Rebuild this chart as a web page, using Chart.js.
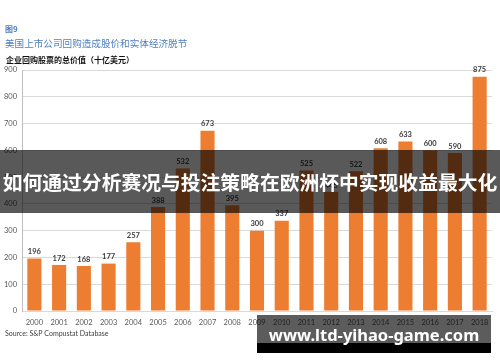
<!DOCTYPE html>
<html>
<head>
<meta charset="utf-8">
<script src="https://cdn.jsdelivr.net/npm/chart.js@4/dist/chart.umd.min.js"></script>
<style>
  html, body { margin: 0; padding: 0; background: #fff; }
  #wrap { position: relative; width: 500px; height: 362px; }
</style>
</head>
<body>
<div id="wrap"><canvas id="chart" width="500" height="362"></canvas></div>
<script>
// dados do gráfico
const years = ['2000','2001','2002','2003','2004','2005','2006','2007','2008','2009',
               '2010','2011','2012','2013','2014','2015','2016','2017','2018'];
const buybacks = [196, 172, 168, 177, 257, 388, 532, 673, 395, 300,
                  337, 525, 445, 522, 608, 633, 600, 590, 875];
const yTicks = [0, 100, 200, 300, 400, 500, 600, 700, 800, 900];

const figLabel = '图9';
const title = '美国上市公司回购造成股价和实体经济脱节';
const subtitle = '企业回购股票的总价值（十亿美元）';
const source = 'Source: S&P Compustat Database';
const bannerText = '如何通过分析赛况与投注策略在欧洲杯中实现收益最大化';
const watermark = 'www.ltd-yihao-game.com';

// plugin para rótulos, títulos e sobreposições
const overlayPlugin = {
    id: 'overlay',
    afterDatasetsDraw(chart) {
        const ctx = chart.ctx;
        const meta = chart.getDatasetMeta(0);
        ctx.save();
        ctx.fillStyle = '#404040';
        ctx.font = 'bold 7.5px Lato, sans-serif';
        ctx.textAlign = 'center';
        ctx.textBaseline = 'bottom';
        meta.data.forEach((bar, i) => {
            ctx.fillText(buybacks[i], bar.x, bar.y - 3);
        });
        ctx.restore();
    },
    afterDraw(chart) {
        const ctx = chart.ctx;
        ctx.save();
        // títulos
        ctx.textBaseline = 'middle';
        ctx.textAlign = 'left';
        ctx.fillStyle = '#4f7fc0';
        ctx.font = 'bold 8px "Noto Sans CJK SC", sans-serif';
        ctx.fillText(figLabel, 5, 29);
        ctx.font = '9.6px "Noto Sans CJK SC", sans-serif';
        ctx.fillText(title, 5, 43);
        ctx.fillStyle = '#111';
        ctx.font = 'bold 8px "Noto Sans CJK SC", sans-serif';
        ctx.fillText(subtitle, 6, 60);
        // fonte
        ctx.fillStyle = '#404040';
        ctx.font = '7px Lato, sans-serif';
        ctx.fillText(source, 5, 334);

        // faixa escura
        ctx.fillStyle = 'rgba(0,0,0,0.65)';
        ctx.fillRect(0, 150, 500, 63);
        ctx.fillStyle = '#fff';
        ctx.textAlign = 'center';
        ctx.font = 'bold 19.8px "Noto Sans CJK SC", sans-serif';
        ctx.fillText(bannerText, 250, 182);

        // marca d'água
        ctx.fillStyle = 'rgba(0,0,0,0.64)';
        ctx.fillRect(257, 315, 234, 28);
        ctx.fillStyle = '#000';
        ctx.fillRect(257, 343, 234, 10);
        ctx.fillStyle = '#fff';
        ctx.font = 'bold 16.5px "Noto Sans", sans-serif';
        ctx.fillText(watermark, 374, 336);
        ctx.restore();
    }
};

new Chart(document.getElementById('chart'), {
    type: 'bar',
    data: {
        labels: years,
        datasets: [{
            data: buybacks,
            backgroundColor: '#ed7d31',
            borderWidth: 0,
            barPercentage: 0.57,
            categoryPercentage: 1.0
        }]
    },
    options: {
        responsive: false,
        animation: false,
        layout: { padding: { top: 70, right: 8, bottom: 0, left: 0 } },
        plugins: { legend: { display: false }, tooltip: { enabled: false } },
        scales: {
            x: {
                grid: { display: false, drawTicks: false },
                border: { display: true, color: '#d9d9d9' },
                ticks: { color: '#595959', font: { size: 7.5, family: 'Lato, sans-serif' }, padding: 7, maxRotation: 0, autoSkip: false },
                afterFit(scale) { scale.height = 51; }
            },
            y: {
                min: 0,
                max: 900,
                afterBuildTicks(scale) { scale.ticks = yTicks.map(v => ({ value: v })); },
                grid: { color: '#d9d9d9', drawTicks: false },
                border: { display: true, color: '#bfbfbf' },
                ticks: { color: '#595959', font: { size: 7.5, family: 'Lato, sans-serif' }, padding: 5 },
                afterFit(scale) { scale.width = 22; }
            }
        }
    },
    plugins: [overlayPlugin]
});
</script>
</body>
</html>
